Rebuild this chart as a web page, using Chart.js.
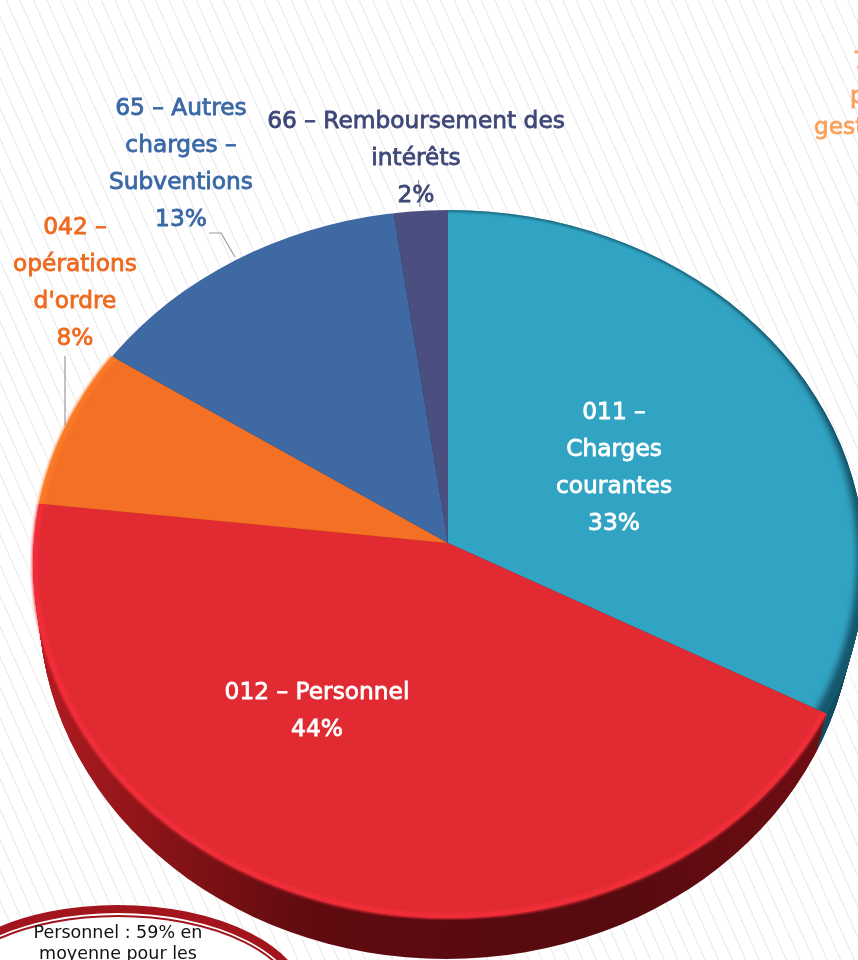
<!DOCTYPE html>
<html lang="fr">
<head>
<meta charset="utf-8">
<title>Dépenses</title>
<style>
html,body{margin:0;padding:0;width:858px;height:960px;overflow:hidden;background-color:#fff;
background-image:repeating-linear-gradient(66deg,#fff 0,#fff 11px,#eeeeee 11px,#eeeeee 12.4px);}
canvas{display:block}
</style>
<script src="https://cdn.jsdelivr.net/npm/chart.js@4/dist/chart.umd.min.js"></script>
</head>
<body>
<canvas id="c" width="858" height="960"></canvas>
<script>
const categories = ["011 – Charges courantes","012 – Personnel","042 – opérations d'ordre","65 – Autres charges – Subventions","66 – Remboursement des intérêts"];
const values = [33, 44, 8, 13, 2];
const labelLines = [["011 –","Charges","courantes"],["012 – Personnel"],["042 –","opérations","d'ordre"],["65 – Autres","charges –","Subventions"],["66 – Remboursement des","intérêts"]];
const cutoffLabel = ["7","p","gest"];
const noteLines = ["Personnel : 59% en","moyenne pour les"];

const faceColors = ["#32a4c3","#e12a32","#f37025","#3f69a3","#4a4f80"];
const textColors = ["#ffffff","#ffffff","#ee6a1f","#3a68a5","#3f4878"];
const sideColors = [["#114c60","#114c60"],["#b01c22","#8a1418","#5f0b10","#560a0f","#6e0e14"],["#a04a10"],["#1d3a60"],["#2a2d50"]];
const rimColors = ["#15566c","#f02e39","#f97a28",null,null];
const labelAnchors = [[614,413],[317,693],[75,228],[181,109],[416,122]];
const lineHeight = 37, fontPx = 23.3, depth = 41;
const rayRatioUp = 0.765, rayRatioDown = 0.82;          // tilt of the slice rays above / below the apex
const rim = {cx:449, cy:564, rx:416, ry:354};           // visible outline of the tilted disc
const font = `${fontPx}px "DejaVu Sans"`;

function halves(ctx, arc, draw){
  [[-20, arc.y, rayRatioUp],[arc.y, 1000, rayRatioDown]].forEach(([a,b,s])=>{
    ctx.save();
    ctx.beginPath();ctx.rect(-10,a,880,b-a);ctx.clip();
    ctx.translate(arc.x,arc.y);ctx.scale(1,s);ctx.translate(-arc.x,-arc.y);
    draw();
    ctx.restore();
  });
}
function wedge(ctx, arc){
  ctx.beginPath();ctx.moveTo(arc.x,arc.y);
  ctx.arc(arc.x,arc.y,arc.outerRadius,arc.startAngle,arc.endAngle);ctx.closePath();
}
function sideFill(ctx, stops){
  if(stops.length===1) return stops[0];
  const g=ctx.createLinearGradient(40,0,830,0);
  const pos=stops.length===5?[0,.15,.34,.72,1]:[0,1];
  stops.forEach((c,i)=>g.addColorStop(pos[i],c));
  return g;
}
function outline(ctx,d){
  const k=d/depth;
  ctx.beginPath();
  ctx.ellipse(rim.cx-3*k,rim.cy,rim.rx-9*k,rim.ry,0,0,Math.PI*2);
}
const pie3d = {
  id:'pie3d',
  beforeDatasetDraw(chart){
    const ctx=chart.ctx, arcs=chart.getDatasetMeta(0).data;
    // note ring, bottom-left
    ctx.save();
    ctx.beginPath();ctx.ellipse(118,1005,190,100,0,0,Math.PI*2);ctx.fillStyle='#fff';ctx.fill();
    ctx.strokeStyle='#a2151c';
    ctx.beginPath();ctx.ellipse(118,1005,186,96,0,0,Math.PI*2);ctx.lineWidth=8;ctx.stroke();
    ctx.beginPath();ctx.ellipse(118,1005,179,89,0,0,Math.PI*2);ctx.lineWidth=2;ctx.stroke();
    ctx.restore();
    // white halo round the pie
    ctx.save();
    ctx.shadowColor='#fff';ctx.shadowBlur=26;
    ctx.translate(0,12);outline(ctx,0);ctx.fillStyle='#fff';ctx.fill();
    ctx.restore();
    // extruded side
    for(let d=depth;d>=1;d--){
      ctx.save();
      ctx.translate(0,d);outline(ctx,d);ctx.clip();
      arcs.forEach((a,i)=>{
        halves(ctx,a,()=>{wedge(ctx,a);ctx.fillStyle=sideFill(ctx,sideColors[i]);ctx.fill();});
      });
      ctx.restore();
    }
    // faces, drawn by the library's arc elements
    ctx.save();
    outline(ctx,0);ctx.clip();
    arcs.forEach(a=>halves(ctx,a,()=>a.draw(ctx)));
    ctx.restore();
    // soft rims
    arcs.forEach((a,i)=>{
      if(!rimColors[i]) return;
      halves(ctx,a,()=>{
        wedge(ctx,a);ctx.clip();
        ctx.setTransform(1,0,0,1,0,0);
        if(i===0){outline(ctx,0);ctx.clip();}
        ctx.filter='blur(1.5px)';
        ctx.strokeStyle=rimColors[i];
        ctx.lineWidth=i===0?3:6;
        const inset=i===0?0:2;
        ctx.beginPath();ctx.ellipse(rim.cx,rim.cy,rim.rx-inset,rim.ry-inset,0,0,Math.PI*2);ctx.stroke();
        if(i===0){
          // darker crescent along the lower-right edge of the blue-green slice
          ctx.filter='blur(3px)';
          ctx.fillStyle='#15566c';
          ctx.beginPath();ctx.rect(0,0,900,1000);
          ctx.ellipse(rim.cx-8,rim.cy-7,rim.rx,rim.ry,0,0,Math.PI*2);
          ctx.fill('evenodd');
        }
      });
    });
    return false;
  },
  afterDatasetsDraw(chart){
    const ctx=chart.ctx;
    ctx.save();
    // leader lines
    ctx.strokeStyle='#9a9a9a';ctx.lineWidth=1.2;
    [[[209,233],[221,233],[235,257]],[[65,356],[65,426]],[[418.5,180],[420,207]]].forEach(p=>{
      ctx.beginPath();p.forEach(([x,y],k)=>k?ctx.lineTo(x,y):ctx.moveTo(x,y));ctx.stroke();
    });
    // slice labels
    ctx.font=font;ctx.textAlign='center';ctx.textBaseline='middle';
    labelLines.forEach((lines,i)=>{
      const pct=Math.round(values[i])+'%';
      [...lines,pct].forEach((t,k)=>{
        ctx.fillStyle=textColors[i];ctx.strokeStyle=textColors[i];ctx.lineWidth=.8;
        const x=labelAnchors[i][0], y=labelAnchors[i][1]+k*lineHeight;
        ctx.fillText(t,x,y);ctx.strokeText(t,x,y);
      });
    });
    // cut-off label at the right edge
    ctx.textAlign='left';ctx.fillStyle='#f9a25c';ctx.strokeStyle='#f9a25c';
    [[853,62],[850,97],[814,128]].forEach(([x,y],k)=>{
      ctx.fillText(cutoffLabel[k],x,y);ctx.strokeText(cutoffLabel[k],x,y);
    });
    // note text
    ctx.textAlign='center';ctx.fillStyle='#111';ctx.font='17.5px "DejaVu Sans"';
    noteLines.forEach((t,k)=>ctx.fillText(t,118,933+k*21));
    ctx.restore();
  }
};
new Chart(document.getElementById('c'),{
  type:'pie',
  data:{labels:categories,datasets:[{data:values,backgroundColor:faceColors,borderWidth:0}]},
  options:{
    responsive:false,animation:false,radius:460,
    layout:{padding:{left:38,top:126,right:0,bottom:0}},
    plugins:{legend:{display:false},tooltip:{enabled:false}}
  },
  plugins:[pie3d]
});
</script>
</body>
</html>
